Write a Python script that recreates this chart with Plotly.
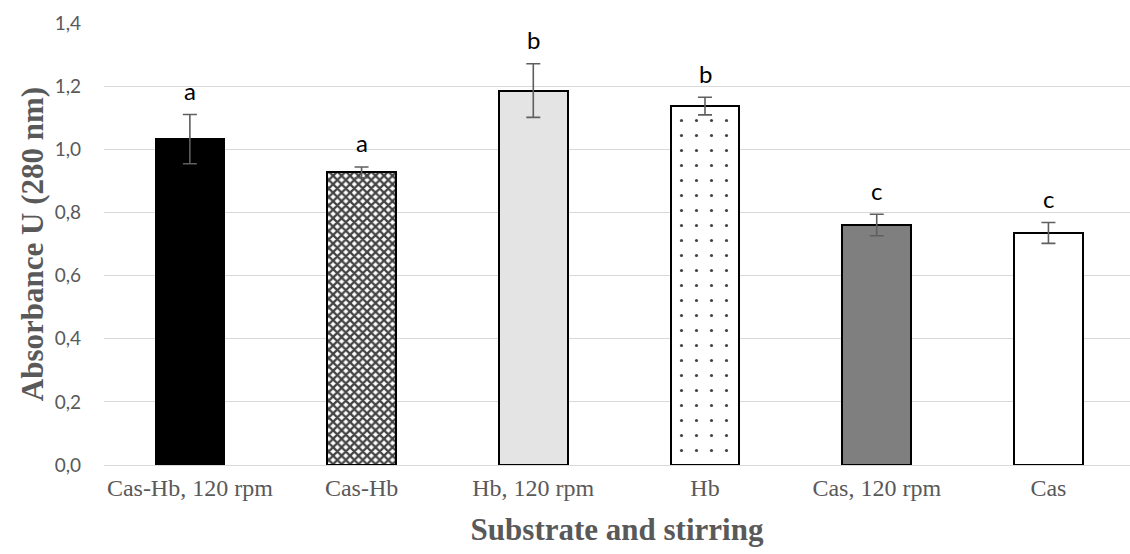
import plotly.graph_objects as go

categories = ["Cas-Hb, 120 rpm", "Cas-Hb", "Hb, 120 rpm", "Hb", "Cas, 120 rpm", "Cas"]
absorbance = [1.032, 0.927, 1.186, 1.137, 0.760, 0.735]
std_err = [0.078, 0.017, 0.085, 0.028, 0.034, 0.033]
group_letters = ["a", "a", "b", "b", "c", "c"]
y_ticks = [0.0, 0.2, 0.4, 0.6, 0.8, 1.0, 1.2, 1.4]

fill_colors = ["#000000", "#ffffff", "#e4e4e4", "#ffffff", "#7f7f7f", "#ffffff"]
pattern_shapes = ["", "x", "", ".", "", ""]
pattern_fg = ["#000000", "#222222", "#000000", "#333333", "#000000", "#000000"]
pattern_sizes = [8, 6, 8, 15, 8, 8]
pattern_solidity = [0.3, 0.62, 0.3, 0.035, 0.3, 0.3]

x_idx = list(range(len(categories)))

fig = go.Figure()
fig.add_trace(go.Bar(
    x=x_idx,
    y=absorbance,
    width=0.40,
    marker=dict(
        color=fill_colors,
        line=dict(color="#000000", width=2),
        pattern=dict(
            shape=pattern_shapes,
            size=pattern_sizes,
            solidity=pattern_solidity,
            fgcolor=pattern_fg,
            fgopacity=1,
            fillmode="overlay",
        ),
    ),
    error_y=dict(type="data", array=std_err, visible=True,
                 color="#5f5f5f", thickness=1.6, width=7),
    hoverinfo="skip",
))

for i, (v, e, lab) in enumerate(zip(absorbance, std_err, group_letters)):
    fig.add_annotation(
        x=i, y=v + e, text=lab, showarrow=False,
        yanchor="middle", yshift=24,
        font=dict(family="Lato, Open Sans, sans-serif", size=24, color="#000000"),
    )

fig.update_layout(
    width=1130, height=554,
    margin=dict(l=104, r=0, t=23, b=89),
    paper_bgcolor="#ffffff", plot_bgcolor="#ffffff",
    separators=",.",
    showlegend=False,
    bargap=0,
)
fig.update_xaxes(
    range=[-0.5, 5.475],
    tickmode="array", tickvals=x_idx, ticktext=categories,
    tickfont=dict(family="Liberation Serif, Times New Roman, serif", size=24, color="#595959"),
    ticks="", ticklabelstandoff=6,
    showgrid=False, showline=False, zeroline=False,
    title=dict(text="<b>Substrate and stirring</b>", standoff=18,
               font=dict(family="Liberation Serif, Times New Roman, serif", size=31, color="#595959")),
)
fig.update_yaxes(
    range=[0, 1.4],
    tickmode="array", tickvals=y_ticks, tickformat=".1f",
    tickfont=dict(family="Lato, Open Sans, sans-serif", size=19, color="#595959"),
    ticks="", ticklabelstandoff=22,
    showgrid=True, gridcolor="#d9d9d9", gridwidth=1.3,
    zeroline=True, zerolinecolor="#d9d9d9", zerolinewidth=1.3,
    showline=False,
    title=dict(text="<b>Absorbance U (280 nm)</b>", standoff=1,
               font=dict(family="Liberation Serif, Times New Roman, serif", size=31, color="#595959")),
)

fig.write_html("out.html")
